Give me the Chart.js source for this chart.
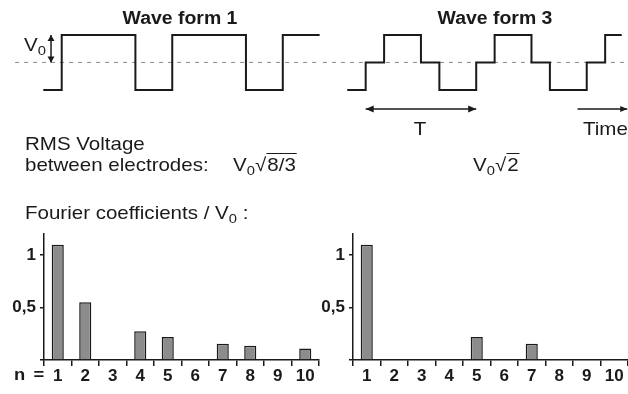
<!DOCTYPE html>
<html><head><meta charset="utf-8">
<script src="https://cdn.jsdelivr.net/npm/chart.js@4.4.0/dist/chart.umd.min.js"></script>
<style>
html,body{margin:0;padding:0;background:#fff;}
#wrap{position:relative;width:628px;height:394px;overflow:hidden;font-family:"Liberation Sans",Arial,Helvetica,sans-serif;color:#1a1a1a;}
canvas{position:absolute;}
.t{position:absolute;white-space:nowrap;font-size:19px;line-height:19px;transform-origin:0 50%;transform:scaleX(1.08);}
.c{transform-origin:50% 50%;transform:translateX(-50%) scaleX(1.08);}
.title{position:absolute;white-space:nowrap;font-weight:bold;font-size:18px;line-height:18px;transform:translateX(-50%) scaleX(1.08);}
sub{font-size:0.72em;vertical-align:-0.3em;line-height:0;}
.rad{border-top:1.4px solid #1a1a1a;padding-left:1px;padding-right:1px;}
</style></head>
<body>
<div id="wrap">
<canvas id="w1" width="320" height="140" style="left:0;top:0"></canvas>
<canvas id="w3" width="308" height="140" style="left:320px;top:0"></canvas>
<canvas id="b1" width="320" height="174" style="left:0;top:220px"></canvas>
<canvas id="b3" width="308" height="174" style="left:320px;top:220px"></canvas>

<div class="title" style="left:180px;top:9px">Wave form 1</div>
<div class="title" style="left:495px;top:9px">Wave form 3</div>
<div class="t" style="left:24px;top:35px">V<sub>0</sub></div>
<div class="t c" style="left:420px;top:119px">T</div>
<div class="t" style="left:583px;top:119px">Time</div>
<div class="t" style="left:25px;top:134px">RMS Voltage</div>
<div class="t" style="left:25px;top:155px">between electrodes:</div>
<div class="t" style="left:233px;top:155px">V<sub>0</sub><span>√</span><span class="rad">8/3</span></div>
<div class="t" style="left:473px;top:155px">V<sub>0</sub><span>√</span><span class="rad">2</span></div>
<div class="t" style="left:25px;top:203px">Fourier coefficients / V<sub>0</sub> :</div>
<div class="t" style="left:14px;top:366px;font-size:17px;line-height:17px;font-weight:bold;word-spacing:3px">n =</div>
</div>
<script>
// ---- data ----
const waveTime1 = [0, 1, 5, 7, 11, 13, 15];
const waveLevel1 = [-1, 1, -1, 1, -1, 1, 1];
const waveTime3 = [0, 1, 2, 4, 5, 7, 8, 10, 11, 13, 14, 14.9];
const waveLevel3 = [-1, 0, 1, 0, -1, 0, 1, 0, -1, 0, 1, 1];
const harmonics = ['1', '2', '3', '4', '5', '6', '7', '8', '9', '10'];
const coeffWave1 = [1.10, 0.55, 0, 0.275, 0.22, 0, 0.155, 0.135, 0, 0.11];
const coeffWave3 = [1.10, 0, 0, 0, 0.22, 0, 0.155, 0, 0, 0];
const yTickValues = [0, 0.5, 1];
const yTickLabels = ['', '0,5', '1'];

const INK = '#1a1a1a';

const arrowPlugin = {
  id: 'arrows',
  afterDatasetsDraw(chart, args, opts) {
    const ctx = chart.ctx, xs = chart.scales.x, ys = chart.scales.y;
    (opts.list || []).forEach(a => {
      const x1 = xs.getPixelForValue(a.t1), y1 = ys.getPixelForValue(a.v1);
      const x2 = xs.getPixelForValue(a.t2), y2 = ys.getPixelForValue(a.v2);
      const L = a.len || 7, W = a.hw || 3.5;
      const ang = Math.atan2(y2 - y1, x2 - x1);
      ctx.save();
      ctx.strokeStyle = INK; ctx.fillStyle = INK; ctx.lineWidth = 1.5;
      ctx.beginPath(); ctx.moveTo(x1, y1); ctx.lineTo(x2, y2); ctx.stroke();
      const head = (px, py, an) => {
        const c = Math.cos(an), s = Math.sin(an);
        ctx.beginPath();
        ctx.moveTo(px, py);
        ctx.lineTo(px - L * c + W * s, py - L * s - W * c);
        ctx.lineTo(px - L * c - W * s, py - L * s + W * c);
        ctx.closePath(); ctx.fill();
      };
      if (a.end) head(x2, y2, ang);
      if (a.start) head(x1, y1, ang + Math.PI);
      ctx.restore();
    });
  }
};

function makeWave(id, times, levels, xMin, xMax, midFrom, midTo, arrows) {
  new Chart(document.getElementById(id), {
    type: 'line',
    data: {
      datasets: [
        { data: times.map((t, i) => ({ x: t, y: levels[i] })), stepped: true,
          borderColor: INK, borderWidth: 2, pointRadius: 0, fill: false, clip: false },
        { data: [{ x: midFrom, y: 0 }, { x: midTo, y: 0 }], borderColor: '#8a8a8a',
          borderWidth: 1, borderDash: [4, 5], pointRadius: 0, fill: false, clip: false }
      ]
    },
    options: {
      responsive: false, animation: false, events: [],
      layout: { padding: 0 },
      plugins: { legend: { display: false }, tooltip: { enabled: false }, arrows: { list: arrows } },
      scales: {
        x: { type: 'linear', min: xMin, max: xMax, display: false },
        y: { type: 'linear', min: -2.82, max: 2.27, display: false }
      }
    },
    plugins: [arrowPlugin]
  });
}

makeWave('w1', waveTime1, waveLevel1, -2.35, 15.02, -1.53, 15.02,
  [{ t1: 0.42, v1: 1, t2: 0.42, v2: 0, start: true, end: true, len: 6, hw: 3.5 }]);
makeWave('w3', waveTime3, waveLevel3, -1.48, 15.24, -1.32, 15.24,
  [{ t1: 1, v1: -1.69, t2: 7, v2: -1.69, start: true, end: true, len: 8, hw: 3.5 },
   { t1: 12.5, v1: -1.69, t2: 15.2, v2: -1.69, start: false, end: true, len: 7, hw: 3 }]);

function makeBars(id, values, yWidth, padRight) {
  new Chart(document.getElementById(id), {
    type: 'bar',
    data: {
      labels: harmonics,
      datasets: [{ data: values, backgroundColor: '#8c8c8c', borderColor: INK,
        borderWidth: 1.5, borderSkipped: 'bottom', barPercentage: 0.44, categoryPercentage: 1 }]
    },
    options: {
      responsive: false, animation: false, events: [],
      layout: { padding: { top: 10, right: padRight, left: 0, bottom: 0 } },
      plugins: { legend: { display: false }, tooltip: { enabled: false } },
      scales: {
        x: {
          type: 'category', offset: true,
          grid: { offset: true, drawOnChartArea: false, drawTicks: true, tickLength: 6, color: INK, lineWidth: 1.5 },
          border: { color: INK, width: 1.5 },
          ticks: { font: { family: 'Liberation Sans', size: 17, weight: 'bold' }, color: INK, padding: 0, maxRotation: 0, autoSkip: false },
          afterFit: s => { s.height = 34; }
        },
        y: {
          min: 0, max: 1.2,
          grid: { drawOnChartArea: false, drawTicks: true, tickLength: 4, color: INK, lineWidth: 1.5 },
          border: { color: INK, width: 1.5 },
          afterBuildTicks: s => { s.ticks = yTickValues.map(v => ({ value: v })); },
          ticks: { font: { family: 'Liberation Sans', size: 17, weight: 'bold' }, color: INK, padding: 4,
            callback: v => yTickLabels[yTickValues.indexOf(v)] },
          afterFit: s => { s.width = yWidth; }
        }
      }
    }
  });
}

makeBars('b1', coeffWave1, 44, 1);
makeBars('b3', coeffWave3, 33, 0);
</script>
</body></html>
